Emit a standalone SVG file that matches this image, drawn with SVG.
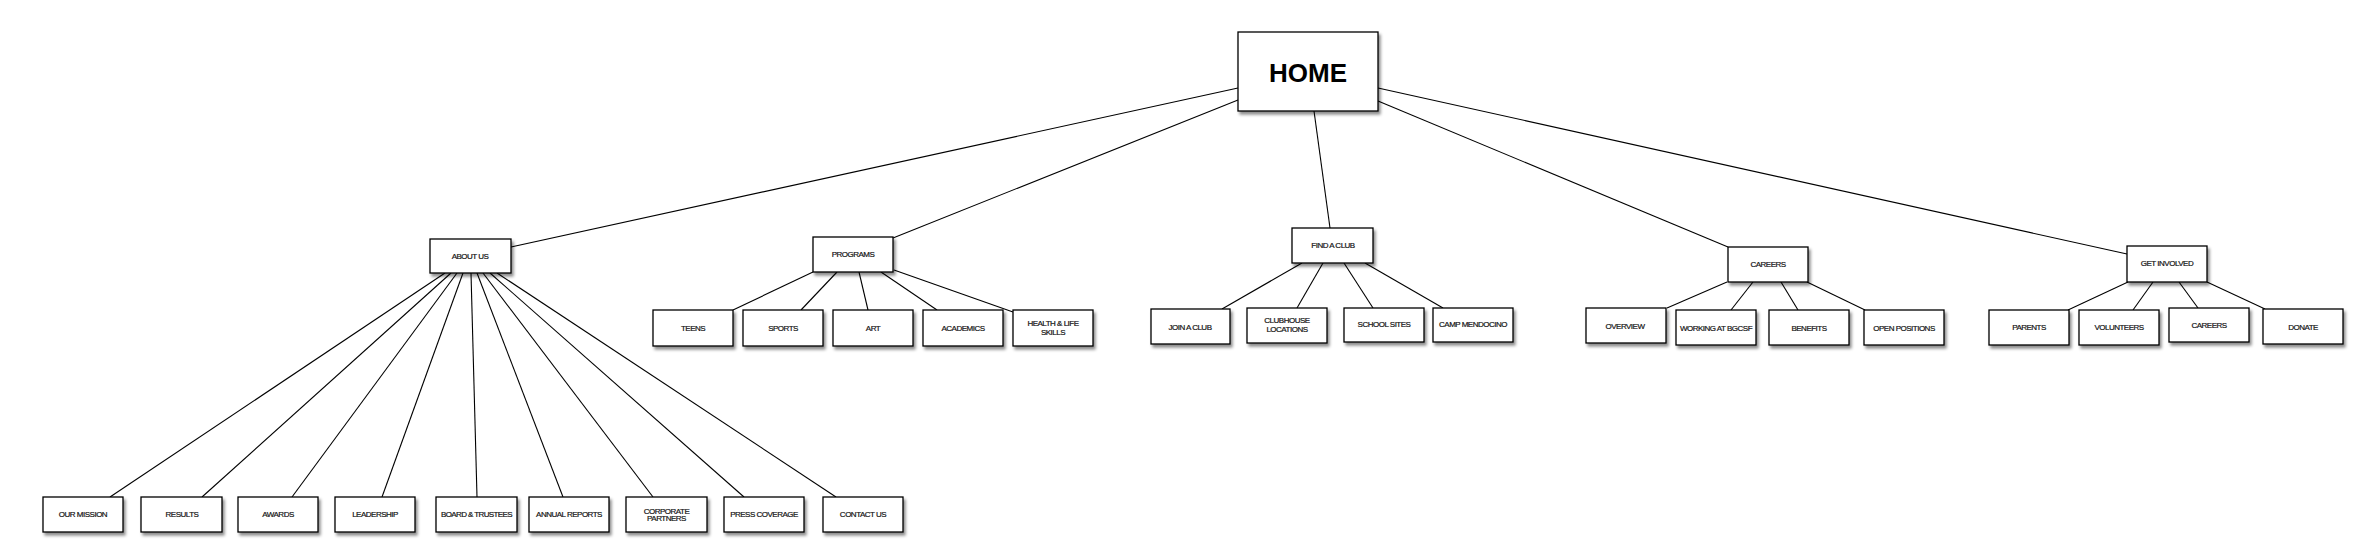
<svg xmlns="http://www.w3.org/2000/svg" width="2378" height="560" viewBox="0 0 2378 560">
<style>
.box{fill:#fff;stroke:#000;stroke-width:1.3;filter:url(#sh)}
.t{font-family:"Liberation Sans",Arial,sans-serif;font-size:8px;letter-spacing:-0.5px;fill:#111;stroke:#111;stroke-width:0.2;text-anchor:middle}
.home{font-family:"Liberation Sans",Arial,sans-serif;font-size:26px;font-weight:bold;fill:#000;text-anchor:middle}
.c line{stroke:#000;stroke-width:1.1}
</style>
<defs>
<filter id="sh" x="-20%" y="-30%" width="150%" height="180%">
<feDropShadow dx="2" dy="3" stdDeviation="1.6" flood-color="#000" flood-opacity="0.45"/>
</filter>
</defs>
<rect width="2378" height="560" fill="#fff"/>
<g class="c" id="connectors">
<line x1="1238" y1="88" x2="511" y2="247"/>
<line x1="1238" y1="100" x2="893" y2="238"/>
<line x1="1314" y1="111" x2="1330" y2="228"/>
<line x1="1378" y1="101" x2="1728" y2="247"/>
<line x1="1378" y1="88" x2="2127" y2="254"/>
<line x1="445" y1="273" x2="110" y2="497"/>
<line x1="451" y1="273" x2="202" y2="497"/>
<line x1="457" y1="273" x2="292" y2="497"/>
<line x1="463" y1="273" x2="382" y2="497"/>
<line x1="471" y1="273" x2="477" y2="497"/>
<line x1="477" y1="273" x2="563" y2="497"/>
<line x1="483" y1="273" x2="653" y2="497"/>
<line x1="490" y1="273" x2="744" y2="497"/>
<line x1="497" y1="273" x2="836" y2="497"/>
<line x1="813" y1="272" x2="733" y2="310"/>
<line x1="837" y1="272" x2="801" y2="310"/>
<line x1="859" y1="272" x2="868" y2="310"/>
<line x1="881" y1="272" x2="937" y2="310"/>
<line x1="894" y1="270" x2="1013" y2="312"/>
<line x1="1302" y1="263" x2="1222" y2="309"/>
<line x1="1323" y1="263" x2="1297" y2="308"/>
<line x1="1344" y1="263" x2="1373" y2="308"/>
<line x1="1365" y1="263" x2="1443" y2="308"/>
<line x1="1727" y1="282" x2="1667" y2="308"/>
<line x1="1753" y1="282" x2="1731" y2="310"/>
<line x1="1781" y1="282" x2="1798" y2="310"/>
<line x1="1807" y1="282" x2="1865" y2="310"/>
<line x1="2128" y1="282" x2="2068" y2="310"/>
<line x1="2153" y1="282" x2="2133" y2="310"/>
<line x1="2179" y1="282" x2="2198" y2="308"/>
<line x1="2207" y1="282" x2="2265" y2="309"/>
</g>
<g id="home"><rect class="box" x="1238" y="32" width="140" height="79"/><text class="home" x="1308" y="82">HOME</text></g>
<g id="about-us"><rect class="box" x="430" y="239" width="81" height="34"/><text class="t" x="470" y="259">ABOUT US</text></g>
<g id="programs"><rect class="box" x="813" y="237" width="80" height="35"/><text class="t" x="853" y="257">PROGRAMS</text></g>
<g id="find-a-club"><rect class="box" x="1292" y="228" width="81" height="35"/><text class="t" x="1333" y="248">FIND A CLUB</text></g>
<g id="careers"><rect class="box" x="1728" y="247" width="80" height="35"/><text class="t" x="1768" y="267">CAREERS</text></g>
<g id="get-involved"><rect class="box" x="2127" y="246" width="80" height="36"/><text class="t" x="2167" y="266">GET INVOLVED</text></g>

<g id="teens"><rect class="box" x="653" y="310" width="80" height="36"/><text class="t" x="693" y="331">TEENS</text></g>
<g id="sports"><rect class="box" x="743" y="310" width="80" height="36"/><text class="t" x="783" y="331">SPORTS</text></g>
<g id="art"><rect class="box" x="833" y="310" width="80" height="36"/><text class="t" x="873" y="331">ART</text></g>
<g id="academics"><rect class="box" x="923" y="310" width="80" height="36"/><text class="t" x="963" y="331">ACADEMICS</text></g>
<g id="health"><rect class="box" x="1013" y="310" width="80" height="36"/><text class="t" x="1053" y="326">HEALTH &amp; LIFE</text><text class="t" x="1053" y="335">SKILLS</text></g>

<g id="join-a-club"><rect class="box" x="1151" y="309" width="79" height="35"/><text class="t" x="1190" y="330">JOIN A CLUB</text></g>
<g id="clubhouse"><rect class="box" x="1247" y="308" width="80" height="35"/><text class="t" x="1287" y="323">CLUBHOUSE</text><text class="t" x="1287" y="331.5">LOCATIONS</text></g>
<g id="school-sites"><rect class="box" x="1344" y="308" width="80" height="34"/><text class="t" x="1384" y="327">SCHOOL SITES</text></g>
<g id="camp"><rect class="box" x="1433" y="308" width="80" height="34"/><text class="t" x="1473" y="327">CAMP MENDOCINO</text></g>

<g id="overview"><rect class="box" x="1586" y="308" width="80" height="35"/><text class="t" x="1625" y="329">OVERVIEW</text></g>
<g id="working"><rect class="box" x="1676" y="310" width="80" height="35"/><text class="t" x="1716" y="331">WORKING AT BGCSF</text></g>
<g id="benefits"><rect class="box" x="1769" y="310" width="80" height="35"/><text class="t" x="1809" y="331">BENEFITS</text></g>
<g id="open-positions"><rect class="box" x="1864" y="310" width="80" height="35"/><text class="t" x="1904" y="331">OPEN POSITIONS</text></g>

<g id="parents"><rect class="box" x="1989" y="310" width="80" height="35"/><text class="t" x="2029" y="330">PARENTS</text></g>
<g id="volunteers"><rect class="box" x="2079" y="310" width="80" height="35"/><text class="t" x="2119" y="330">VOLUNTEERS</text></g>
<g id="careers-2"><rect class="box" x="2169" y="308" width="80" height="34"/><text class="t" x="2209" y="328">CAREERS</text></g>
<g id="donate"><rect class="box" x="2263" y="309" width="80" height="35"/><text class="t" x="2303" y="330">DONATE</text></g>

<g id="our-mission"><rect class="box" x="43" y="497" width="80" height="35"/><text class="t" x="83" y="517">OUR MISSION</text></g>
<g id="results"><rect class="box" x="141" y="497" width="81" height="35"/><text class="t" x="182" y="517">RESULTS</text></g>
<g id="awards"><rect class="box" x="238" y="497" width="80" height="35"/><text class="t" x="278" y="517">AWARDS</text></g>
<g id="leadership"><rect class="box" x="335" y="497" width="80" height="35"/><text class="t" x="375" y="517">LEADERSHIP</text></g>
<g id="board"><rect class="box" x="436" y="497" width="81" height="35"/><text class="t" x="476.5" y="517" style="letter-spacing:-0.6px">BOARD &amp; TRUSTEES</text></g>
<g id="annual-reports"><rect class="box" x="529" y="497" width="80" height="35"/><text class="t" x="569" y="517">ANNUAL REPORTS</text></g>
<g id="corporate"><rect class="box" x="626" y="497" width="81" height="35"/><text class="t" x="666.5" y="513.7">CORPORATE</text><text class="t" x="666.5" y="521.3">PARTNERS</text></g>
<g id="press"><rect class="box" x="724" y="497" width="80" height="35"/><text class="t" x="764" y="517">PRESS COVERAGE</text></g>
<g id="contact"><rect class="box" x="823" y="497" width="80" height="35"/><text class="t" x="863" y="517">CONTACT US</text></g>
</svg>
